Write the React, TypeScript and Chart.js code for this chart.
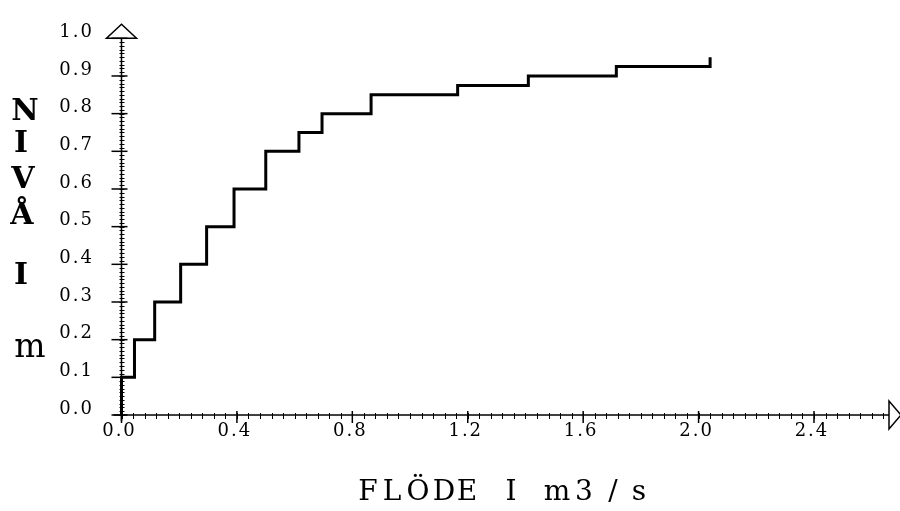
import React, { useEffect, useRef } from 'react';
import { Chart, registerables } from 'chart.js';

Chart.register(...registerables);

// Step curve: flow (m3/s) at which each level begins, and the level (m)
const flows = [0, 0, 0.045, 0.115, 0.205, 0.295, 0.39, 0.5, 0.615, 0.695, 0.865, 1.165, 1.41, 1.715, 2.04];
const levels = [0, 0.1, 0.2, 0.3, 0.4, 0.5, 0.6, 0.7, 0.75, 0.8, 0.85, 0.875, 0.9, 0.925, 0.95];

const xTicks = [0, 0.4, 0.8, 1.2, 1.6, 2.0, 2.4];
const yTicks = [0, 0.1, 0.2, 0.3, 0.4, 0.5, 0.6, 0.7, 0.8, 0.9, 1.0];
const xMinorStep = 0.04;
const yMinorStep = 0.01;
const xMax = 2.66;

const xTitle = 'FLÖDE I m3/s';
const yTitleLetters = ['N', 'I', 'V', 'Å', 'I', 'm'];

const xTitleCenters = [368, 392, 418, 444, 467, -1, 511, -1, 557, 584, 613, 639];
const yLetterPos: [number, number][] = [[25, 120], [21, 152], [23, 188], [22, 224], [21, 284], [30, 357]];

const spacing = {
  id: 'spacing',
  beforeDraw(chart: any) {
    (chart.ctx as any).letterSpacing = '2px';
  },
};

const decor = {
  id: 'decor',
  afterDraw(chart: any) {
    const { ctx, scales } = chart;
    const x = scales.x;
    const y = scales.y;
    const ax = x.getPixelForValue(0);
    const ay = y.getPixelForValue(0);
    const line = (x1: number, y1: number, x2: number, y2: number) => {
      ctx.beginPath();
      ctx.moveTo(x1, y1);
      ctx.lineTo(x2, y2);
      ctx.stroke();
    };
    ctx.save();
    (ctx as any).letterSpacing = '0px';
    ctx.strokeStyle = '#000';
    ctx.fillStyle = '#000';
    // axes
    ctx.lineWidth = 1.5;
    line(ax - 8, ay, x.right, ay);
    line(ax, ay + 6, ax, y.top);
    // y minor ticks
    ctx.lineWidth = 1;
    const yn = Math.round(1 / yMinorStep);
    for (let i = 0; i <= yn; i++) {
      const py = Math.round(y.getPixelForValue(i * yMinorStep)) + 0.5;
      line(ax - 2, py, ax + 3, py);
    }
    // x minor ticks
    const xn = Math.floor(xMax / xMinorStep);
    for (let i = 0; i <= xn; i++) {
      const px = Math.round(x.getPixelForValue(i * xMinorStep)) + 0.5;
      line(px, ay - 2, px, ay + 4);
    }
    // major ticks
    ctx.lineWidth = 1.5;
    yTicks.forEach((v) => {
      const py = y.getPixelForValue(v);
      line(ax - 10, py, ax + 6, py);
    });
    xTicks.forEach((v) => {
      const px = x.getPixelForValue(v);
      line(px, ay - 4, px, ay + 8);
    });
    // arrows
    ctx.lineWidth = 1.5;
    ctx.beginPath();
    ctx.moveTo(ax - 15, y.top);
    ctx.lineTo(ax + 15, y.top);
    ctx.lineTo(ax, y.top - 14);
    ctx.closePath();
    ctx.stroke();
    ctx.beginPath();
    ctx.moveTo(x.right, ay - 14);
    ctx.lineTo(x.right, ay + 14);
    ctx.lineTo(x.right + 12, ay);
    ctx.closePath();
    ctx.stroke();
    // y title letters
    ctx.textAlign = 'center';
    ctx.textBaseline = 'alphabetic';
    yTitleLetters.forEach((ch, i) => {
      ctx.font = ch === 'm' ? '33px "DejaVu Serif"' : 'bold 30px "DejaVu Serif"';
      ctx.fillText(ch, yLetterPos[i][0], yLetterPos[i][1]);
    });
    // x title
    ctx.font = '28px "DejaVu Serif"';
    xTitle.split('').forEach((ch, i) => {
      if (ch === ' ') return;
      ctx.fillText(ch, xTitleCenters[i], 500);
    });
    ctx.restore();
  },
};

export default function App() {
  const ref = useRef<HTMLCanvasElement>(null);
  useEffect(() => {
    if (!ref.current) return;
    const chart = new Chart(ref.current, {
      type: 'scatter',
      data: {
        datasets: [
          {
            data: flows.map((f, i) => ({ x: f, y: levels[i] })),
            showLine: true,
            stepped: 'before',
            borderColor: '#000',
            borderWidth: 3,
            pointRadius: 0,
            clip: false,
          } as any,
        ],
      },
      options: {
        animation: false,
        responsive: false,
        devicePixelRatio: 1,
        layout: { padding: { top: 31.7, right: 11, left: 0, bottom: 0 } },
        plugins: { legend: { display: false }, tooltip: { enabled: false } },
        scales: {
          x: {
            type: 'linear',
            min: 0,
            max: xMax,
            afterBuildTicks: (s: any) => {
              s.ticks = xTicks.map((v) => ({ value: v }));
            },
            afterFit: (s: any) => {
              s.height = 96;
            },
            grid: { display: false, drawTicks: false },
            border: { display: false },
            ticks: {
              callback: (v: any) => Number(v).toFixed(1),
              font: { family: 'DejaVu Serif', size: 18 },
              color: '#000',
              padding: 6,
              labelOffset: -2,
              maxRotation: 0,
              autoSkip: false,
            },
          },
          y: {
            type: 'linear',
            min: 0,
            max: 1,
            afterBuildTicks: (s: any) => {
              s.ticks = yTicks.map((v) => ({ value: v }));
            },
            afterFit: (s: any) => {
              s.width = 121.5;
            },
            grid: { display: false, drawTicks: false },
            border: { display: false },
            ticks: {
              callback: (v: any) => Number(v).toFixed(1),
              font: { family: 'DejaVu Serif', size: 18 },
              color: '#000',
              padding: 27.5,
              labelOffset: -6,
              autoSkip: false,
            },
          },
        },
      },
      plugins: [spacing, decor],
    });
    return () => chart.destroy();
  }, []);
  return (
    <div style={{ position: 'fixed', left: 0, top: 0, width: 900, height: 511, background: '#fff' }}>
      <canvas ref={ref} width={900} height={511} />
    </div>
  );
}
